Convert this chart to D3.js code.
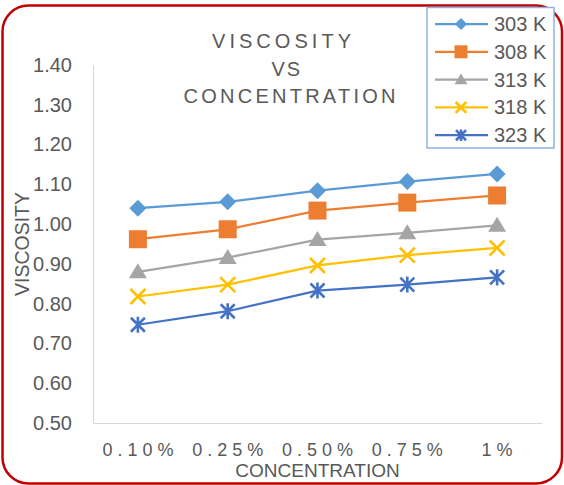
<!DOCTYPE html>
<html>
<head>
<meta charset="utf-8">
<script src="https://cdn.jsdelivr.net/npm/d3@7/dist/d3.min.js"></script>
<style>
  html, body { margin: 0; padding: 0; background: #fff; }
  svg { display: block; }
  text { font-family: "Liberation Sans", Arial, sans-serif; fill: #595959; }
</style>
</head>
<body>
<svg id="chart" width="564" height="485"></svg>
<script>
const categories = ["0.10%", "0.25%", "0.50%", "0.75%", "1%"];
const seriesNames = ["303 K", "308 K", "313 K", "318 K", "323 K"];
const v303 = [1.040, 1.056, 1.084, 1.107, 1.126];
const v308 = [0.962, 0.987, 1.034, 1.054, 1.072];
const v313 = [0.880, 0.916, 0.961, 0.978, 0.997];
const v318 = [0.818, 0.848, 0.896, 0.922, 0.940];
const v323 = [0.747, 0.781, 0.833, 0.848, 0.866];
const yTicks = [0.50, 0.60, 0.70, 0.80, 0.90, 1.00, 1.10, 1.20, 1.30, 1.40];
const titleLines = ["VISCOSITY", "VS", "CONCENTRATION"];

const seriesValues = [v303, v308, v313, v318, v323];
const colors = ["#5B9BD5", "#ED7D31", "#A5A5A5", "#FFC000", "#4472C4"];
const shapes = ["diamond", "square", "triangle", "x", "star"];

const svg = d3.select("#chart");

// outer rounded border
svg.append("rect")
  .attr("x", 2.5).attr("y", 5.5).attr("width", 559.5).attr("height", 478)
  .attr("rx", 26).attr("ry", 26)
  .attr("fill", "#fff").attr("stroke", "#C00000").attr("stroke-width", 2.5);

const pLeft = 93, pRight = 542, pTop = 65, pBottom = 423;
const x = d3.scaleBand().domain(categories).range([pLeft, pRight]);
const y = d3.scaleLinear().domain([0.5, 1.4]).range([pBottom, pTop]);
const cx = c => x(c) + x.bandwidth() / 2;

// Y axis
const yAxis = svg.append("g").attr("transform", `translate(${pLeft},0)`)
  .call(d3.axisLeft(y).tickValues(yTicks).tickFormat(d3.format(".2f")).tickSize(0).tickPadding(21));
yAxis.select(".domain").attr("stroke", "#D9D9D9").attr("stroke-width", 1.2);
yAxis.selectAll("text").attr("font-size", 20).attr("fill", "#595959")
  .style("font-family", '"Liberation Sans", Arial, sans-serif');

// X axis
const xAxis = svg.append("g").attr("transform", `translate(0,${pBottom})`)
  .call(d3.axisBottom(x).tickSize(0));
xAxis.select(".domain").attr("stroke", "#D9D9D9").attr("stroke-width", 1.2);
xAxis.selectAll("text").attr("font-size", 18).attr("fill", "#595959")
  .attr("y", 33).attr("dy", 0).attr("dx", 2.5)
  .style("letter-spacing", "5px")
  .style("font-family", '"Liberation Sans", Arial, sans-serif');

// Title
const titleStarts = [212, 271.5, 183.5];
const titleLens = [139, 28.5, 212];
const titleBase = [47.7, 76, 103.3];
titleLines.forEach((t, i) => {
  svg.append("text").attr("x", titleStarts[i]).attr("y", titleBase[i])
    .attr("font-size", 20)
    .attr("textLength", titleLens[i]).attr("lengthAdjust", "spacing")
    .text(t);
});

// Axis titles
svg.append("text").attr("x", (pLeft + pRight) / 2).attr("y", 477)
  .attr("text-anchor", "middle").attr("font-size", 19).text("CONCENTRATION");
svg.append("text").attr("transform", `translate(29,${(pTop + pBottom) / 2}) rotate(-90)`)
  .attr("text-anchor", "middle").attr("font-size", 19.5).text("VISCOSITY");

function drawMarker(g, shape, color, s) {
  if (shape === "diamond") {
    const r = 8.5 * s;
    g.append("path").attr("d", `M0,${-r}L${r},0L0,${r}L${-r},0Z`).attr("fill", color);
  } else if (shape === "square") {
    const h = 9 * s;
    g.append("rect").attr("x", -h).attr("y", -h).attr("width", 2 * h).attr("height", 2 * h).attr("fill", color);
  } else if (shape === "triangle") {
    g.append("path").attr("d", `M0,${-8.5 * s}L${9 * s},${6.5 * s}L${-9 * s},${6.5 * s}Z`).attr("fill", color);
  } else if (shape === "x") {
    const r = 7.5 * s;
    g.append("path").attr("d", `M${-r},${-r}L${r},${r}M${-r},${r}L${r},${-r}`)
      .attr("stroke", color).attr("stroke-width", 2.6).attr("fill", "none");
  } else if (shape === "star") {
    const r = 7 * s;
    g.append("path").attr("d", `M${-r},${-r}L${r},${r}M${-r},${r}L${r},${-r}M0,${-r * 1.15}L0,${r * 1.15}`)
      .attr("stroke", color).attr("stroke-width", 2.6).attr("fill", "none");
  }
}

// Series lines + markers
const line = d3.line().x((d, i) => cx(categories[i])).y(d => y(d));
seriesValues.forEach((vals, si) => {
  svg.append("path").datum(vals).attr("d", line)
    .attr("fill", "none").attr("stroke", colors[si]).attr("stroke-width", 2.25);
});
seriesValues.forEach((vals, si) => {
  vals.forEach((v, i) => {
    const g = svg.append("g").attr("transform", `translate(${cx(categories[i])},${y(v)})`);
    drawMarker(g, shapes[si], colors[si], 1);
  });
});

// Legend
const lg = svg.append("g");
lg.append("rect").attr("x", 427).attr("y", 7.5).attr("width", 127).attr("height", 140.5)
  .attr("fill", "#fff").attr("stroke", "#8DB4E2").attr("stroke-width", 1.5);
seriesNames.forEach((name, i) => {
  const ly = 24 + i * 27.8;
  lg.append("line").attr("x1", 435).attr("x2", 488).attr("y1", ly).attr("y2", ly)
    .attr("stroke", colors[i]).attr("stroke-width", 2.25);
  const g = lg.append("g").attr("transform", `translate(461,${ly})`);
  drawMarker(g, shapes[i], colors[i], 0.72);
  lg.append("text").attr("x", 494).attr("y", ly + 7).attr("font-size", 20).text(name);
});
</script>
</body>
</html>
